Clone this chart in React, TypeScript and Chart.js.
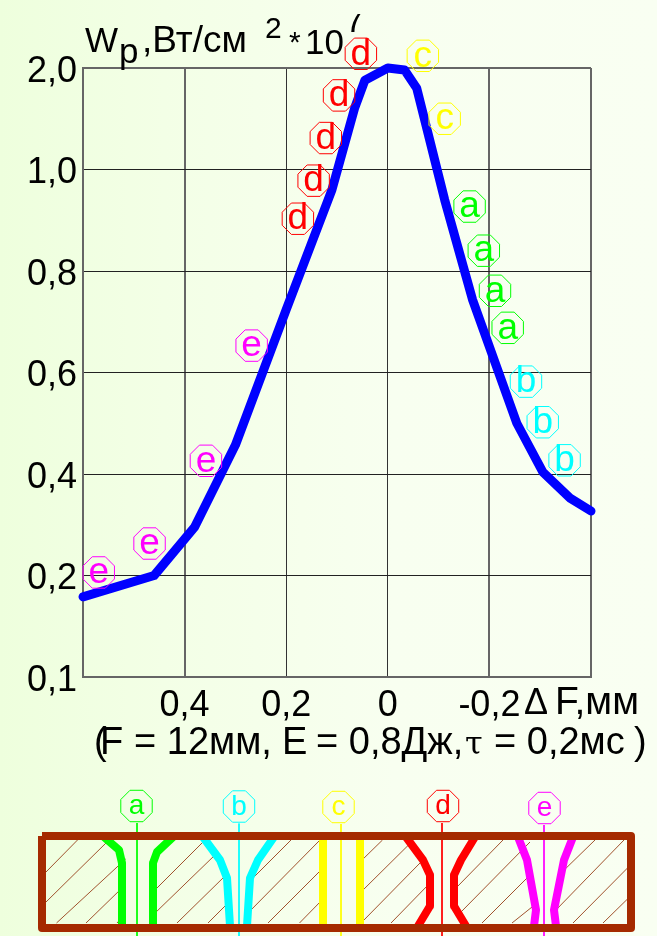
import React, { useEffect, useRef } from "react";
import { Chart, registerables } from "chart.js";

Chart.register(...registerables);

const curveFocus = [0.6, 0.46, 0.38, 0.3, 0.2, 0.11, 0.065, 0.045, 0, -0.033, -0.057, -0.112, -0.167, -0.254, -0.305, -0.358, -0.4];
const curvePower = [0.179, 0.2, 0.296, 0.457, 0.724, 0.96, 1.61, 1.88, 2.0, 1.98, 1.8, 0.94, 0.743, 0.5, 0.404, 0.353, 0.327];

const yTicks = [0.1, 0.2, 0.4, 0.6, 0.8, 1.0, 2.0];
const yTickLabels = ["0,1", "0,2", "0,4", "0,6", "0,8", "1,0", "2,0"];
const xTickLabels: Record<string, string> = { "0.4": "0,4", "0.2": "0,2", "0": "0", "-0.2": "-0,2" };

// Letter markers on the graph: [focus, power]
const markersA = [[-0.161, 0.927], [-0.189, 0.84], [-0.211, 0.761], [-0.236, 0.688]];
const markersB = [[-0.272, 0.582], [-0.305, 0.502], [-0.348, 0.427]];
const markersC = [[-0.069, 2.12], [-0.112, 1.5]];
const markersD = [[0.053, 2.14], [0.096, 1.73], [0.122, 1.31], [0.146, 0.978], [0.177, 0.903]];
const markersE = [[0.268, 0.653], [0.358, 0.426], [0.469, 0.263], [0.569, 0.206]];

// Cross-section diagram, in its own units
const frameOutline = [[42, 836], [631, 836], [631, 928], [42, 928], [42, 836]];
const profileA = [[[104, 837], [119, 850], [122, 863], [122, 926]], [[173, 837], [157, 852], [153, 863], [153, 926]]];
const profileB = [[[203, 837], [220, 860], [227, 878], [230, 926]], [[274, 837], [258, 860], [250, 878], [247, 926]]];
const profileC = [[[323, 837], [323, 926]], [[360, 837], [360, 926]]];
const profileD = [[[406, 837], [423, 860], [430, 875], [430, 906], [418, 926]], [[475, 837], [461, 860], [454, 875], [454, 906], [466, 926]]];
const profileE = [[[518, 837], [527, 860], [536, 910], [534, 926]], [[573, 837], [564, 860], [554, 910], [556, 926]]];
const calloutX = [137, 239, 341, 442, 544];
const calloutNames = ["a", "b", "c", "d", "e"];
const calloutCentres = [[136.5, 806], [239, 806.5], [338.5, 807], [443, 806], [544.5, 808]];
const hatchSegments = [
  [46, 872, 77.5, 840], [46, 902, 107, 842], [56.5, 923, 125.7, 859], [86, 923, 122, 888], [117, 923, 121.5, 918],
  [155, 890, 205, 840], [153, 915, 216, 854], [177, 923, 226, 875], [208, 923, 229, 902],
  [251, 880, 291, 840], [247, 914, 320, 840], [268, 923, 323, 868], [299.5, 923, 323, 899],
  [360, 862, 382.5, 840], [360, 893, 408.5, 845], [362, 922, 420, 863], [391, 923, 430, 883],
  [457, 887, 503, 840], [461, 912, 530, 842], [482, 923, 530, 875], [512, 923, 532, 907],
  [559, 875, 595, 840], [554, 912, 624, 840], [573, 923, 627.5, 868], [603, 923, 627.5, 899],
];

const COLORS: Record<string, string> = { a: "#00ff00", b: "#00ffff", c: "#ffff00", d: "#ff0000", e: "#ff00ff" };
const BROWN = "#a52a00";
const FONT = '"Liberation Sans", Arial, sans-serif';

function toSlot(v: number): number {
  let i = 0;
  while (i < yTicks.length - 2 && v > yTicks[i + 1]) i++;
  return i + (v - yTicks[i]) / (yTicks[i + 1] - yTicks[i]);
}

function drawBadge(ctx: CanvasRenderingContext2D, x: number, y: number, letter: string, size: number) {
  const color = COLORS[letter];
  const r = 17;
  ctx.save();
  ctx.beginPath();
  for (let i = 0; i < 8; i++) {
    const a = (Math.PI / 4) * i + Math.PI / 8;
    const px = x + r * Math.cos(a);
    const py = y + r * Math.sin(a);
    if (i === 0) ctx.moveTo(px, py);
    else ctx.lineTo(px, py);
  }
  ctx.closePath();
  ctx.lineWidth = 1;
  ctx.strokeStyle = color;
  ctx.stroke();
  ctx.fillStyle = color;
  ctx.font = `${size}px ${FONT}`;
  ctx.textAlign = "center";
  ctx.textBaseline = "alphabetic";
  ctx.fillText(letter, x, y + size * 0.29);
  ctx.restore();
}

const badgePlugin = {
  id: "badges",
  afterDatasetsDraw(chart: any) {
    chart.data.datasets.forEach((ds: any, i: number) => {
      if (!ds.badge) return;
      chart.getDatasetMeta(i).data.forEach((pt: any) => drawBadge(chart.ctx, pt.x, pt.y, ds.badge, ds.badgeSize));
    });
  },
};

const textPlugin = {
  id: "captions",
  afterDraw(chart: any) {
    const ctx: CanvasRenderingContext2D = chart.ctx;
    const put = (t: string, x: number, y: number, size = 35, font = FONT) => {
      ctx.font = `${size}px ${font}`;
      ctx.fillText(t, x, y);
    };
    ctx.save();
    ctx.fillStyle = "#000";
    ctx.textAlign = "left";
    ctx.textBaseline = "alphabetic";
    put("W", 85, 52);
    put("p", 119, 63);
    put(",Вт/см", 142, 52, 37);
    put("2", 265, 38, 30);
    put("*", 289, 52, 30);
    put("10", 305, 54);
    ctx.save();
    ctx.beginPath();
    ctx.rect(350, 14, 20, 20);
    ctx.clip();
    put("7", 345, 32, 35);
    ctx.restore();
    put("Δ", 524, 714, 36);
    put("F,мм", 555, 714, 39);
    put("(", 94, 754, 38);
    put("F", 100, 754, 38);
    put("= 12мм,", 134, 754, 38);
    put("E", 282, 754, 38);
    put("= 0,8Дж,", 316, 754, 38);
    put("τ", 465, 754, 32, '"DejaVu Serif"');
    put("= 0,2мс", 494, 754, 38);
    put(")", 634, 754, 38);
    ctx.restore();
  },
};

function segmentsToPoints(list: number[][][]) {
  const out: any[] = [];
  list.forEach((line, i) => {
    if (i) out.push({ x: null, y: null });
    line.forEach(([x, y]) => out.push({ x, y }));
  });
  return out;
}

export default function App() {
  const graphRef = useRef<HTMLCanvasElement>(null);
  const diagramRef = useRef<HTMLCanvasElement>(null);

  useEffect(() => {
    document.body.style.margin = "0";
    const markerSet = (name: string, pts: number[][]) => ({
      label: name,
      badge: name,
      badgeSize: 37,
      data: pts.map(([x, y]) => ({ x, y: toSlot(y) })),
      showLine: false,
      pointRadius: 0,
      clip: false,
    });
    const near = (a: number, b: number) => Math.abs(a - b) < 0.01;
    const graph = new Chart(graphRef.current!, {
      type: "scatter",
      data: {
        datasets: [
          {
            label: "Wp",
            data: curveFocus.map((x, i) => ({ x, y: toSlot(curvePower[i]) })),
            showLine: true,
            borderColor: "#0000ff",
            borderWidth: 9,
            borderCapStyle: "round",
            borderJoinStyle: "round",
            pointRadius: 0,
            tension: 0,
            clip: false,
          },
          markerSet("a", markersA),
          markerSet("b", markersB),
          markerSet("c", markersC),
          markerSet("d", markersD),
          markerSet("e", markersE),
        ] as any,
      },
      options: {
        animation: false,
        responsive: false,
        layout: { padding: { top: 68, right: 66, left: 0, bottom: 0 }, autoPadding: false },
        plugins: { legend: { display: false }, tooltip: { enabled: false }, title: { display: false } },
        scales: {
          x: {
            type: "linear",
            reverse: true,
            min: -0.4,
            max: 0.6,
            afterFit: (s: any) => { s.height = 103; },
            grid: {
              color: (c: any) => (near(c.tick.value, 0.2) || near(c.tick.value, 0) ? "#333" : "#666"),
              lineWidth: (c: any) => (near(c.tick.value, 0.2) || near(c.tick.value, 0) ? 1 : 2),
              drawTicks: false,
            },
            border: { color: "#666", width: 2 },
            ticks: {
              stepSize: 0.2,
              autoSkip: false,
              maxRotation: 0,
              padding: 7,
              labelOffset: 0,
              color: "#000",
              font: { family: "Liberation Sans", size: 36 },
              callback: (v: any) => xTickLabels[String(Math.round(Number(v) * 10) / 10)] ?? "",
            },
          },
          y: {
            type: "linear",
            min: 0,
            max: 6,
            afterFit: (s: any) => { s.width = 83; },
            grid: {
              color: (c: any) => (c.tick.value === 6 || c.tick.value === 0 ? "#666" : "#222"),
              lineWidth: (c: any) => (c.tick.value === 6 || c.tick.value === 0 ? 2 : 1),
              drawTicks: false,
            },
            border: { color: "#666", width: 2 },
            ticks: {
              stepSize: 1,
              padding: 6,
              autoSkip: false,
              labelOffset: 4,
              color: "#000",
              font: { family: "Liberation Sans", size: 36 },
              callback: (v: any) => yTickLabels[Number(v)] ?? "",
            },
          },
        },
      } as any,
      plugins: [badgePlugin, textPlugin],
    });

    const hatchPts = segmentsToPoints(hatchSegments.map(([a, b, c, d]) => [[a, b], [c, d]]));
    const line = (label: string, data: any[], color: string, width: number, order: number) => ({
      label,
      data,
      showLine: true,
      borderColor: color,
      borderWidth: width,
      pointRadius: 0,
      tension: 0,
      spanGaps: false,
      borderJoinStyle: "round",
      order,
    });
    const calloutPts = (x: number, i: number) => [{ x, y: calloutCentres[i][1] + 17 }, { x, y: 936 }];
    const diagram = new Chart(diagramRef.current!, {
      type: "scatter",
      data: {
        datasets: [
          line("frame", frameOutline.map(([x, y]) => ({ x, y })), BROWN, 8, 1),
          line("a", segmentsToPoints(profileA), COLORS.a, 8, 3),
          line("b", segmentsToPoints(profileB), COLORS.b, 8, 3),
          line("c", segmentsToPoints(profileC), COLORS.c, 8, 3),
          line("d", segmentsToPoints(profileD), COLORS.d, 8, 3),
          line("e", segmentsToPoints(profileE), COLORS.e, 8, 3),
          ...calloutX.map((x, i) => line("callout " + calloutNames[i], calloutPts(x, i), COLORS[calloutNames[i]], 1, 2)),
          line("hatch", hatchPts, "#a0522d", 1, 4),
          ...calloutNames.map((n, i) => ({
            label: "badge " + n,
            badge: n,
            badgeSize: 28,
            data: [{ x: calloutCentres[i][0], y: calloutCentres[i][1] }],
            showLine: false,
            pointRadius: 0,
            order: 5,
          })),
        ] as any,
      },
      options: {
        animation: false,
        responsive: false,
        layout: { padding: 0, autoPadding: false },
        plugins: { legend: { display: false }, tooltip: { enabled: false } },
        scales: {
          x: { type: "linear", display: false, min: 0, max: 657 },
          y: { type: "linear", display: false, min: 780, max: 936, reverse: true },
        },
      } as any,
      plugins: [badgePlugin],
    });

    return () => {
      graph.destroy();
      diagram.destroy();
    };
  }, []);

  return (
    <div
      style={{
        position: "absolute",
        left: 0,
        top: 0,
        width: 657,
        height: 936,
        overflow: "hidden",
        background: "linear-gradient(90deg, #eeffdd 0%, #f3ffe6 25%, #f8fff0 60%, #f9fff2 100%)",
      }}
    >
      <canvas ref={graphRef} width={657} height={780} style={{ display: "block" }} />
      <canvas ref={diagramRef} width={657} height={156} style={{ display: "block" }} />
    </div>
  );
}
